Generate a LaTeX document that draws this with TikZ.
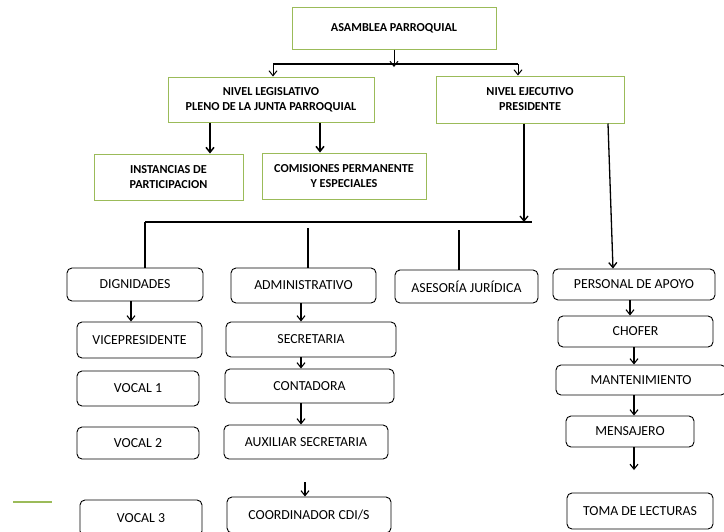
\documentclass[tikz,border=0pt]{standalone}
\usepackage{fontspec}
\setmainfont{Carlito}
\usetikzlibrary{arrows.meta}
\definecolor{boxgreen}{HTML}{9BBB59}
\begin{document}
\begin{tikzpicture}[x=1pt,y=-1pt,
                    green box/.style={draw=boxgreen,line width=1pt,inner sep=0pt,align=center,
                                      font=\fontsize{12.2}{15}\selectfont\bfseries},
                    round box/.style={draw,rounded corners=5pt,line width=0.9pt,inner sep=0pt,
                                      align=center,font=\fontsize{13.8}{15}\selectfont},
                    arr/.style={line width=1.3pt,-{Straight Barb[length=5pt,width=8pt]}},
                    bus/.style={line width=1.1pt}]
    \useasboundingbox (0,0) rectangle (724,531);

    % Define upper level
    \node[green box,minimum width=204pt,minimum height=42pt] (asamblea) at (394,28) {ASAMBLEA PARROQUIAL};
    \node[green box,minimum width=206pt,minimum height=45pt] (legis) at (271,99.5) {NIVEL LEGISLATIVO\\PLENO DE LA JUNTA PARROQUIAL};
    \node[green box,minimum width=188pt,minimum height=47pt] (ejec) at (530,99.5) {NIVEL EJECUTIVO\\PRESIDENTE};
    \node[green box,minimum width=149pt,minimum height=46pt] (inst) at (168.5,177) {INSTANCIAS DE\\PARTICIPACION};
    \node[green box,minimum width=164pt,minimum height=46pt] (comis) at (344,176) {COMISIONES PERMANENTE\\Y ESPECIALES};

    % Define lower level
    \node[round box,minimum width=136pt,minimum height=33pt] (dign) at (135,284.5) {DIGNIDADES};
    \node[round box,minimum width=145pt,minimum height=35pt] (admin) at (303.5,285.5) {ADMINISTRATIVO};
    \node[round box,minimum width=143pt,minimum height=33pt] (asesor) at (466.5,286.5) {ASESORÍA JURÍDICA};
    \node[round box,minimum width=162pt,minimum height=31pt] (apoyo) at (634,284.5) {PERSONAL DE APOYO};

    \node[round box,minimum width=125pt,minimum height=36pt] (vice) at (139.5,340) {VICEPRESIDENTE};
    \node[round box,minimum width=122pt,minimum height=35pt] (vocal1) at (138,388.5) {VOCAL 1};
    \node[round box,minimum width=122pt,minimum height=32pt] (vocal2) at (138,443) {VOCAL 2};
    \node[round box,minimum width=122pt,minimum height=36pt] (vocal3) at (141,518) {VOCAL 3};

    \node[round box,minimum width=170pt,minimum height=35pt] (secre) at (311,339.5) {SECRETARIA};
    \node[round box,minimum width=169pt,minimum height=34pt] (conta) at (309.5,386) {CONTADORA};
    \node[round box,minimum width=164pt,minimum height=34pt] (auxil) at (306,442) {AUXILIAR SECRETARIA};
    \node[round box,minimum width=164pt,minimum height=36pt] (coord) at (309,515) {COORDINADOR CDI/S};

    \node[round box,minimum width=155pt,minimum height=31pt] (chofer) at (635.5,331.5) {CHOFER};
    \node[round box,minimum width=170pt,minimum height=30pt] (mante) at (641,380) {MANTENIMIENTO};
    \node[round box,minimum width=128pt,minimum height=31pt] (mensa) at (630,431.5) {MENSAJERO};
    \node[round box,minimum width=146pt,minimum height=36pt] (toma) at (640,511) {TOMA DE LECTURAS};

    % Junctions
    \coordinate (topbus) at (394,64);
    \coordinate (topL) at (273,64);
    \coordinate (topR) at (518,64);
    \coordinate (midbus) at (524,222);
    \coordinate (midL) at (145,222);
    \coordinate (midR) at (532,222);
    \coordinate (coordin) at (305,482);
    \coordinate (mensaout) at (634,470);

    % Connectors
    \draw[arr,line width=1pt] (asamblea.south) -- ([yshift=-3pt]topbus);
    \draw[bus] (topL) -- (topR);
    \draw[arr,line width=1pt] (topL) -- (topL |- legis.north);
    \draw[arr,line width=1pt] (topR) -- (topR |- ejec.north);
    \draw[arr,line width=1.5pt] ([xshift=-61pt]legis.south) -- ([xshift=-61pt]legis.south |- inst.north);
    \draw[arr,line width=1.5pt] ([xshift=49pt]legis.south) -- ([xshift=49pt]legis.south |- comis.north);
    \draw[arr] ([xshift=-6pt]ejec.south) -- (midbus);
    \draw[arr] ([xshift=78pt]ejec.south) -- ([xshift=-21pt]apoyo.north);
    \draw[bus] (midL) -- (midR);
    \draw[bus] (midL) -- (midL |- dign.north);
    \draw[bus] ([xshift=4.5pt]admin.north |- 0,228) -- ([xshift=4.5pt]admin.north);
    \draw[bus] ([xshift=-7.5pt]asesor.north |- 0,230) -- ([xshift=-7.5pt]asesor.north);

    \draw[arr,line width=1.1pt] ([xshift=-4pt]dign.south) -- ([xshift=-4pt]dign.south |- vice.north);
    \draw[arr,line width=1.1pt] ([xshift=-2.5pt]admin.south) -- ([xshift=-2.5pt]admin.south |- secre.north);
    \draw[arr,line width=1.1pt] ([xshift=-10pt]secre.south) -- ([xshift=-10pt]secre.south |- conta.north);
    \draw[arr,line width=1.1pt] ([xshift=-8.5pt]conta.south) -- ([xshift=-8.5pt]conta.south |- auxil.north);
    \draw[arr,line width=1.1pt] (coordin) -- (coordin |- coord.north);
    \draw[arr,line width=1.1pt] ([xshift=-4pt]apoyo.south) -- ([xshift=-4pt]apoyo.south |- chofer.north);
    \draw[arr,line width=1.1pt] ([xshift=-1.5pt]chofer.south) -- ([xshift=-1.5pt]chofer.south |- mante.north);
    \draw[arr,line width=1.1pt] ([xshift=-7pt]mante.south) -- ([xshift=-7pt]mante.south |- mensa.north);
    \draw[arr,line width=1.1pt] ([xshift=4pt]mensa.south) -- (mensaout);

    % Stray mark
    \draw[boxgreen,line width=2pt] (13,502) -- (52,502);
\end{tikzpicture}
\end{document}
